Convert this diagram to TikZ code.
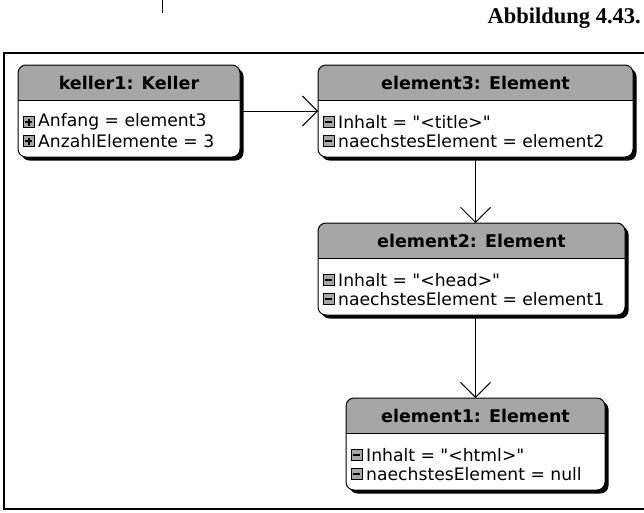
\documentclass[tikz,border=0pt]{standalone}
\usepackage{fontspec}
\newfontfamily\umlfont{DejaVu Sans}
\newfontfamily\capfont{Liberation Serif}
\usetikzlibrary{arrows.meta}
\definecolor{headgray}{RGB}{166,166,166}
\tikzset{
  boxline/.style={draw=black, line width=1pt, rounded corners=8pt},
  headtext/.style={font=\umlfont\bfseries\fontsize{17.5}{20}\selectfont, inner sep=0pt},
  rowtext/.style={font=\umlfont\fontsize{17.2}{20}\selectfont, inner sep=0pt, anchor=west},
  iconbox/.style={draw=black, line width=1pt, fill=headgray, minimum size=11pt, inner sep=0pt},
  iconminus/.style={iconbox, path picture={\draw[line width=2pt] ([xshift=-3.5pt]path picture bounding box.center) -- ([xshift=3.5pt]path picture bounding box.center);}},
  iconplus/.style={iconbox, path picture={\draw[line width=2pt] ([xshift=-3.5pt]path picture bounding box.center) -- ([xshift=3.5pt]path picture bounding box.center) ([yshift=-3.5pt]path picture bounding box.center) -- ([yshift=3.5pt]path picture bounding box.center);}},
  link/.style={draw=black, line width=1pt, -{Straight Barb[length=15pt, width=30pt, line width=1pt]}},
}
% #1 name, #2 x1, #3 y1, #4 x2, #5 title, #6 icon style, #7 row1, #8 row2
\newcommand\umlbox[8]{%
  \fill[black, rounded corners=8pt] ({#2+3.5},{#3+3.5}) rectangle ({#4+3.5},{#3+95.5});
  \fill[white, rounded corners=8pt] (#2,#3) rectangle (#4,{#3+92});
  \begin{scope}
    \clip[rounded corners=8pt] (#2,#3) rectangle (#4,{#3+92});
    \fill[headgray] (#2,#3) rectangle (#4,{#3+35});
  \end{scope}
  \draw[line width=1pt] (#2,{#3+35}) -- (#4,{#3+35});
  \node[boxline, inner sep=0pt, outer sep=0pt, minimum width={#4-#2}, minimum height=92pt, anchor=north west] (#1) at (#2,#3) {};
  \node[headtext] (#1-t) at ({(#2+#4)/2},{#3+18}) {#5};
  \node[#6] (#1-ia) at ({#2+10.5},{#3+57}) {};
  \node[#6] (#1-ib) at ({#2+10.5},{#3+76}) {};
  \node[rowtext] (#1-a) at ({#2+20},{#3+57}) {#7};
  \node[rowtext] (#1-b) at ({#2+20},{#3+76}) {#8};
}
\begin{document}
\begin{tikzpicture}[x=1pt,y=-1pt]
\useasboundingbox (0,0) rectangle (644,512);
\fill[white] (0,0) rectangle (644,512);
% top tick
\draw[line width=1pt] (162.5,0) -- (162.5,13);
% caption
\node[anchor=base east, inner sep=0pt, font=\capfont\bfseries\fontsize{22.5}{26}\selectfont] (cap) at (641,23) {Abbildung 4.43.};
% frame
\draw[line width=2pt] (646,53) -- (3.5,53) -- (3.5,509) -- (646,509);
% boxes
\umlbox{k}{18}{65}{240}{keller1: Keller}{iconplus}{Anfang = element3}{AnzahlElemente = 3}
\umlbox{e3}{318}{65}{633}{element3: Element}{iconminus}{Inhalt = "<title>"}{naechstesElement = element2}
\umlbox{e2}{318}{223}{625}{element2: Element}{iconminus}{Inhalt = "<head>"}{naechstesElement = element1}
\umlbox{e1}{346}{398}{605}{element1: Element}{iconminus}{Inhalt = "<html>"}{naechstesElement = null}
% connectors
\draw[link] (k.east) -- (e3.west);
\draw[link] (e3.south -| e1.north) -- (e2.north -| e1.north);
\draw[link] (e2.south -| e1.north) -- (e1.north);
\end{tikzpicture}
\end{document}
